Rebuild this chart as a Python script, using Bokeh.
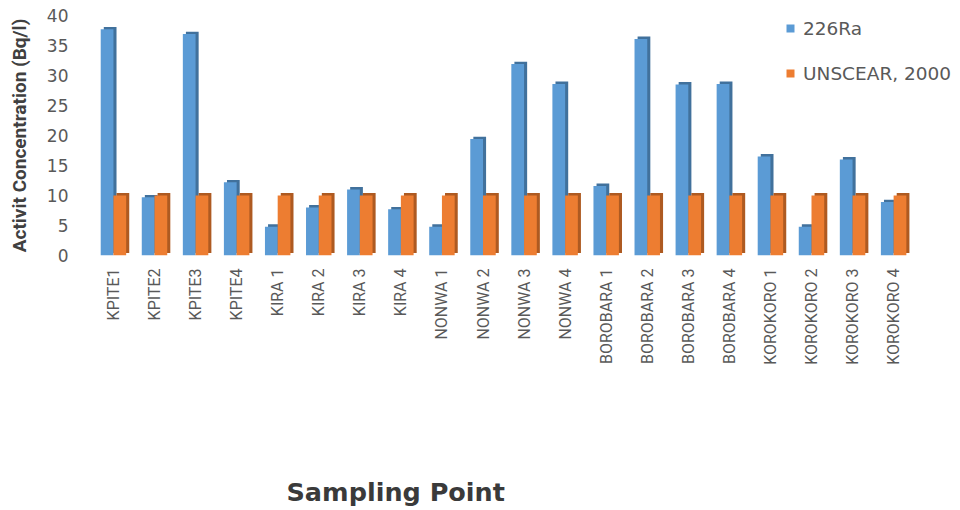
from bokeh.plotting import figure
from bokeh.models import (ColumnDataSource, Legend, LegendItem, Title, Range1d, FixedTicker,
                          LinearAxis)
from bokeh.transform import dodge
from bokeh.embed import file_html
from bokeh.resources import INLINE
import math

categories = ["KPITE1", "KPITE2", "KPITE3", "KPITE4", "KIRA 1", "KIRA 2", "KIRA 3", "KIRA 4",
              "NONWA 1", "NONWA 2", "NONWA 3", "NONWA 4", "BOROBARA 1", "BOROBARA 2",
              "BOROBARA 3", "BOROBARA 4", "KOROKORO 1", "KOROKORO 2", "KOROKORO 3", "KOROKORO 4"]
ra226 = [37.7, 9.7, 36.9, 12.2, 4.8, 8.0, 11.0, 7.7, 4.8, 19.4, 31.9, 28.6,
         11.6, 36.1, 28.5, 28.6, 16.5, 4.8, 16.0, 8.9]
unscear = [10, 10, 10, 10, 10, 10, 10, 10, 10, 10, 10, 10, 10, 10, 10, 10, 10, 10, 10, 10]
y_ticks = [0, 5, 10, 15, 20, 25, 30, 35, 40]

idx = list(range(len(categories)))
DEPTH_Y = 0.4
src = ColumnDataSource(dict(
    idx=idx,
    ra=ra226,
    un=unscear,
    ra_d=[v + DEPTH_Y for v in ra226],
    un_d=[v + DEPTH_Y for v in unscear],
))

p = figure(x_range=Range1d(-0.51, 20.58), y_range=Range1d(0, 40),
           width=960, height=510, output_backend="svg", toolbar_location=None,
           min_border_left=92, min_border_right=2, min_border_top=15, min_border_bottom=255)
p.outline_line_color = None
p.background_fill_color = "white"
p.border_fill_color = "white"

W = 0.31
D = 0.075
p.vbar(x=dodge("idx", -0.155 + D), top="ra_d", bottom=DEPTH_Y, width=W,
       source=src, fill_color="#41719C", line_color=None)
r1 = p.vbar(x=dodge("idx", -0.155), top="ra", width=W, source=src,
            fill_color="#5B9BD5", line_color=None)
p.vbar(x=dodge("idx", 0.155 + D), top="un_d", bottom=DEPTH_Y, width=W,
       source=src, fill_color="#AE5A21", line_color=None)
r2 = p.vbar(x=dodge("idx", 0.155), top="un", width=W, source=src,
            fill_color="#ED7D31", line_color=None)

p.xgrid.grid_line_color = None
p.ygrid.grid_line_color = None

p.yaxis.ticker = FixedTicker(ticks=y_ticks)
p.yaxis.axis_line_color = None
p.yaxis.major_tick_line_color = None
p.yaxis.minor_tick_line_color = None
p.yaxis.major_label_text_font = "DejaVu Sans"
p.yaxis.major_label_text_font_size = "17px"
p.yaxis.major_label_text_color = "#595959"
p.yaxis.major_label_standoff = 18
p.yaxis.axis_label = "Activit Concentration (Bq/l)"
p.yaxis.axis_label_text_font = "Roboto"
p.yaxis.axis_label_text_font_style = "bold"
p.yaxis.axis_label_text_font_size = "19px"
p.yaxis.axis_label_text_color = "#404040"
p.yaxis.axis_label_standoff = 13

p.xaxis.ticker = FixedTicker(ticks=idx)
p.xaxis.major_label_overrides = {i: c for i, c in zip(idx, categories)}
p.xaxis.axis_line_color = None
p.xaxis.major_tick_line_color = None
p.xaxis.minor_tick_line_color = None
p.xaxis.major_tick_out = 0
p.xaxis.major_label_orientation = math.pi / 2
p.xaxis.major_label_text_font = "Roboto"
p.xaxis.major_label_text_font_size = "16px"
p.xaxis.major_label_text_color = "#595959"
p.xaxis.major_label_standoff = 13

# empty spacer axis (blank label) that pushes the axis title down
spacer = LinearAxis(ticker=FixedTicker(ticks=[]), axis_line_color=None,
                    major_tick_line_color=None, minor_tick_line_color=None,
                    major_tick_out=0, major_label_text_font_size="0px",
                    axis_label="\u00a0", axis_label_text_font_size="75px",
                    axis_label_standoff=20, axis_label_text_alpha=0)
p.add_layout(spacer, "below")

legend = Legend(items=[LegendItem(label="226Ra", renderers=[r1]),
                       LegendItem(label="UNSCEAR, 2000", renderers=[r2])],
                location=(693, 171), padding=0, margin=0, spacing=23,
                glyph_width=10, glyph_height=10, label_height=22,
                label_text_font="DejaVu Sans", label_text_font_size="18.5px",
                label_text_color="#595959", label_standoff=8,
                border_line_color=None, background_fill_alpha=0)
p.add_layout(legend, "center")

title = Title(text="Sampling Point", align="left", offset=194, standoff=0,
              text_font="DejaVu Sans", text_font_style="bold", text_font_size="25.5px",
              text_color="#3a3a3a")
p.add_layout(title, "below")

open("out.html", "w").write(file_html(p, INLINE))
